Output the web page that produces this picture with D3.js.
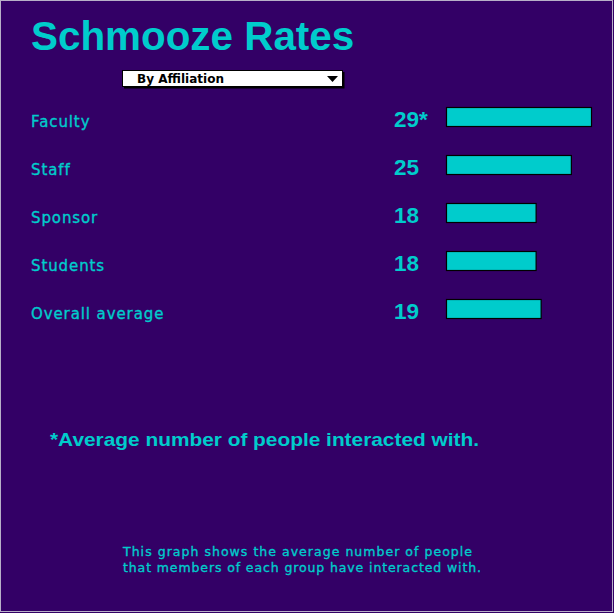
<!DOCTYPE html>
<html>
<head>
<meta charset="utf-8">
<script src="https://cdn.jsdelivr.net/npm/d3@7"></script>
<style>
  html, body { margin: 0; padding: 0; background: #330066; }
  svg { display: block; }
</style>
</head>
<body>
<svg id="chart" width="614" height="613"></svg>
<script>
const categories = ["Faculty", "Staff", "Sponsor", "Students", "Overall average"];
const values = [29, 25, 18, 18, 19];
const valueLabels = ["29*", "25", "18", "18", "19"];
const title = "Schmooze Rates";
const dropdownLabel = "By Affiliation";
const footnote = "*Average number of people interacted with.";
const caption = ["This graph shows the average number of people",
                 "that members of each group have interacted with."];

const BG = "#330066", TEAL = "#00cccc";
const svg = d3.select("#chart");
svg.append("rect").attr("x", 0.5).attr("y", 0.5).attr("width", 612).attr("height", 611)
  .attr("fill", BG).attr("stroke", "#b8b0c8").attr("stroke-width", 1);

// Title
svg.append("text").attr("x", 31).attr("y", 50)
  .attr("font-family", "Liberation Sans, Arial, sans-serif")
  .attr("font-weight", "bold").attr("font-size", 40.4)
  .attr("fill", TEAL).text(title);

// Dropdown
const dd = svg.append("g");
dd.append("rect").attr("x", 124).attr("y", 72).attr("width", 220.5).attr("height", 16.5).attr("fill", "#000");
dd.append("rect").attr("x", 122.5).attr("y", 70.5).attr("width", 220).attr("height", 16)
  .attr("fill", "#fff").attr("stroke", "#000").attr("stroke-width", 1);
dd.append("text").attr("x", 137).attr("y", 83)
  .attr("font-family", "DejaVu Sans, sans-serif").attr("font-weight", "bold")
  .attr("font-size", 12).attr("fill", "#000").attr("textLength", 87)
  .attr("lengthAdjust", "spacingAndGlyphs").text(dropdownLabel);
dd.append("path").attr("d", "M327,76 L338,76 L332.5,82 Z").attr("fill", "#000");

// Scales
const x = d3.scaleLinear().domain([0, 29]).range([446, 592]);
const y = d3.scaleBand().domain(categories).range([93, 93 + 48 * 5]);
const barH = 20;
const barTop = d => y(d) + 14;

const rows = svg.append("g").selectAll("g").data(categories).join("g");

rows.append("text")
  .attr("x", 31).attr("y", d => barTop(d) + 20)
  .attr("font-family", "DejaVu Sans, sans-serif").attr("font-size", 15)
  .attr("letter-spacing", 0.9)
  .attr("stroke", TEAL).attr("stroke-width", 0.35)
  .attr("fill", TEAL).text(d => d);

rows.append("text")
  .attr("x", 394).attr("y", (d) => barTop(d) + 20)
  .attr("font-family", "Liberation Sans, Arial, sans-serif")
  .attr("font-weight", "bold").attr("font-size", 22.5)
  .attr("fill", TEAL).text((d, i) => valueLabels[i]);

rows.append("rect")
  .attr("x", x(0) + 0.5).attr("y", d => barTop(d) + 0.5)
  .attr("width", (d, i) => x(values[i]) - x(0) - 1).attr("height", barH - 1)
  .attr("fill", TEAL).attr("stroke", "#000").attr("stroke-width", 1.2);

// Footnote
svg.append("text").attr("x", 50).attr("y", 446)
  .attr("font-family", "Liberation Sans, Arial, sans-serif")
  .attr("font-weight", "bold").attr("font-size", 18.5)
  .attr("textLength", 429).attr("lengthAdjust", "spacingAndGlyphs")
  .attr("fill", TEAL).text(footnote);

// Caption
svg.append("g").selectAll("text").data(caption).join("text")
  .attr("x", 123).attr("y", (d, i) => 556 + i * 16)
  .attr("font-family", "DejaVu Sans, sans-serif").attr("font-size", 12.5)
  .attr("stroke", TEAL).attr("stroke-width", 0.35)
  .attr("textLength", (d, i) => i === 0 ? 349 : 358).attr("lengthAdjust", "spacing")
  .attr("fill", TEAL).text(d => d);
</script>
</body>
</html>
